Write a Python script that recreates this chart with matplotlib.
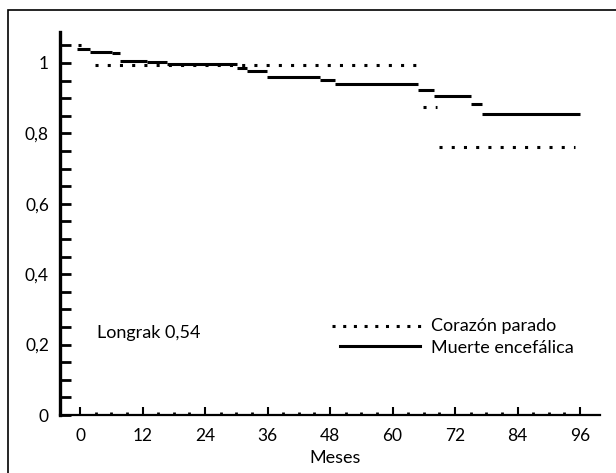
import matplotlib.pyplot as plt
from matplotlib.patches import Rectangle

# Muerte encefalica: step segments (start month, end month, survival)
me_start = [-0.6, 1.9, 6.1, 7.7, 12.9, 16.7, 30.1, 32.1, 35.9, 46.1, 49.0, 64.9, 68.0, 75.1, 77.2]
me_end = [1.9, 6.1, 7.7, 12.9, 16.7, 30.1, 32.1, 35.9, 46.1, 49.0, 64.9, 68.0, 75.1, 77.2, 96.0]
me_surv = [1.040, 1.032, 1.027, 1.006, 1.002, 0.997, 0.985, 0.977, 0.961, 0.951, 0.940, 0.924, 0.907, 0.883, 0.856]

# Corazon parado
cp_start = [-0.4, 2.9, 65.8, 68.9]
cp_end = [0.6, 65.7, 68.6, 95.0]
cp_surv = [1.050, 0.993, 0.876, 0.760]

x_ticks = [0, 12, 24, 36, 48, 60, 72, 84, 96]
y_ticks = [0, 0.2, 0.4, 0.6, 0.8, 1.0]
y_labels = ['0', '0,2', '0,4', '0,6', '0,8', '1']

plt.rcParams['font.family'] = ['Lato', 'DejaVu Sans']
W, H = 616, 473
fig = plt.figure(figsize=(W / 100, H / 100), dpi=100)

# outer frame
fig.patches.append(Rectangle((8 / W, -0.1), 1.2, (H - 10) / H + 0.1,
                             transform=fig.transFigure, fill=False,
                             lw=1.2, ec='black'))

ax = fig.add_axes([60 / W, (H - 415) / H, 540 / W, 383 / H])
ax.set_xlim(-3.84, 99.84)
ax.set_ylim(0, 1.088)

for s in ['top', 'right']:
    ax.spines[s].set_visible(False)
ax.spines['left'].set_linewidth(2.4)
ax.spines['bottom'].set_linewidth(1.6)

ax.hlines(me_surv, me_start, me_end, colors='black', lw=2.2)
ax.hlines(cp_surv, cp_start, cp_end, colors='black', lw=2.2,
          linestyles=[(0, (1, 3))])

ax.set_xticks(x_ticks)
ax.set_xticks(range(0, 97, 3), minor=True)
ax.set_yticks(y_ticks)
ax.set_yticklabels(y_labels)
ax.set_yticks([i * 0.05 for i in range(22)], minor=True)
ax.tick_params(axis='x', which='major', direction='in', length=6, width=1.5, pad=9, labelsize=12.5)
ax.tick_params(axis='x', which='minor', direction='in', length=2.5, width=2)
ax.tick_params(axis='y', which='both', direction='in', length=8, width=2, pad=8, labelsize=12.5)

fig.text(335 / W, 1 - 458 / H, 'Meses', ha='center', va='center', fontsize=13)

fig.text(97 / W, 1 - 333 / H, 'Longrak 0,54', fontsize=13, va='center')

# legend drawn by hand
def mx(px):
    return (px - 80) * 12 / 62.5

ax.plot([mx(332), mx(422)], [0.252, 0.252],
        color='black', lw=2.2, linestyle=(0, (1, 2.5)))
ax.plot([mx(340), mx(420)], [0.195, 0.195], color='black', lw=2.2)
ax.text(mx(431), 0.252, 'Corazón parado', fontsize=13, va='center')
ax.text(mx(431), 0.19, 'Muerte encefálica', fontsize=13, va='center')

fig.savefig('out.png', dpi=100)
